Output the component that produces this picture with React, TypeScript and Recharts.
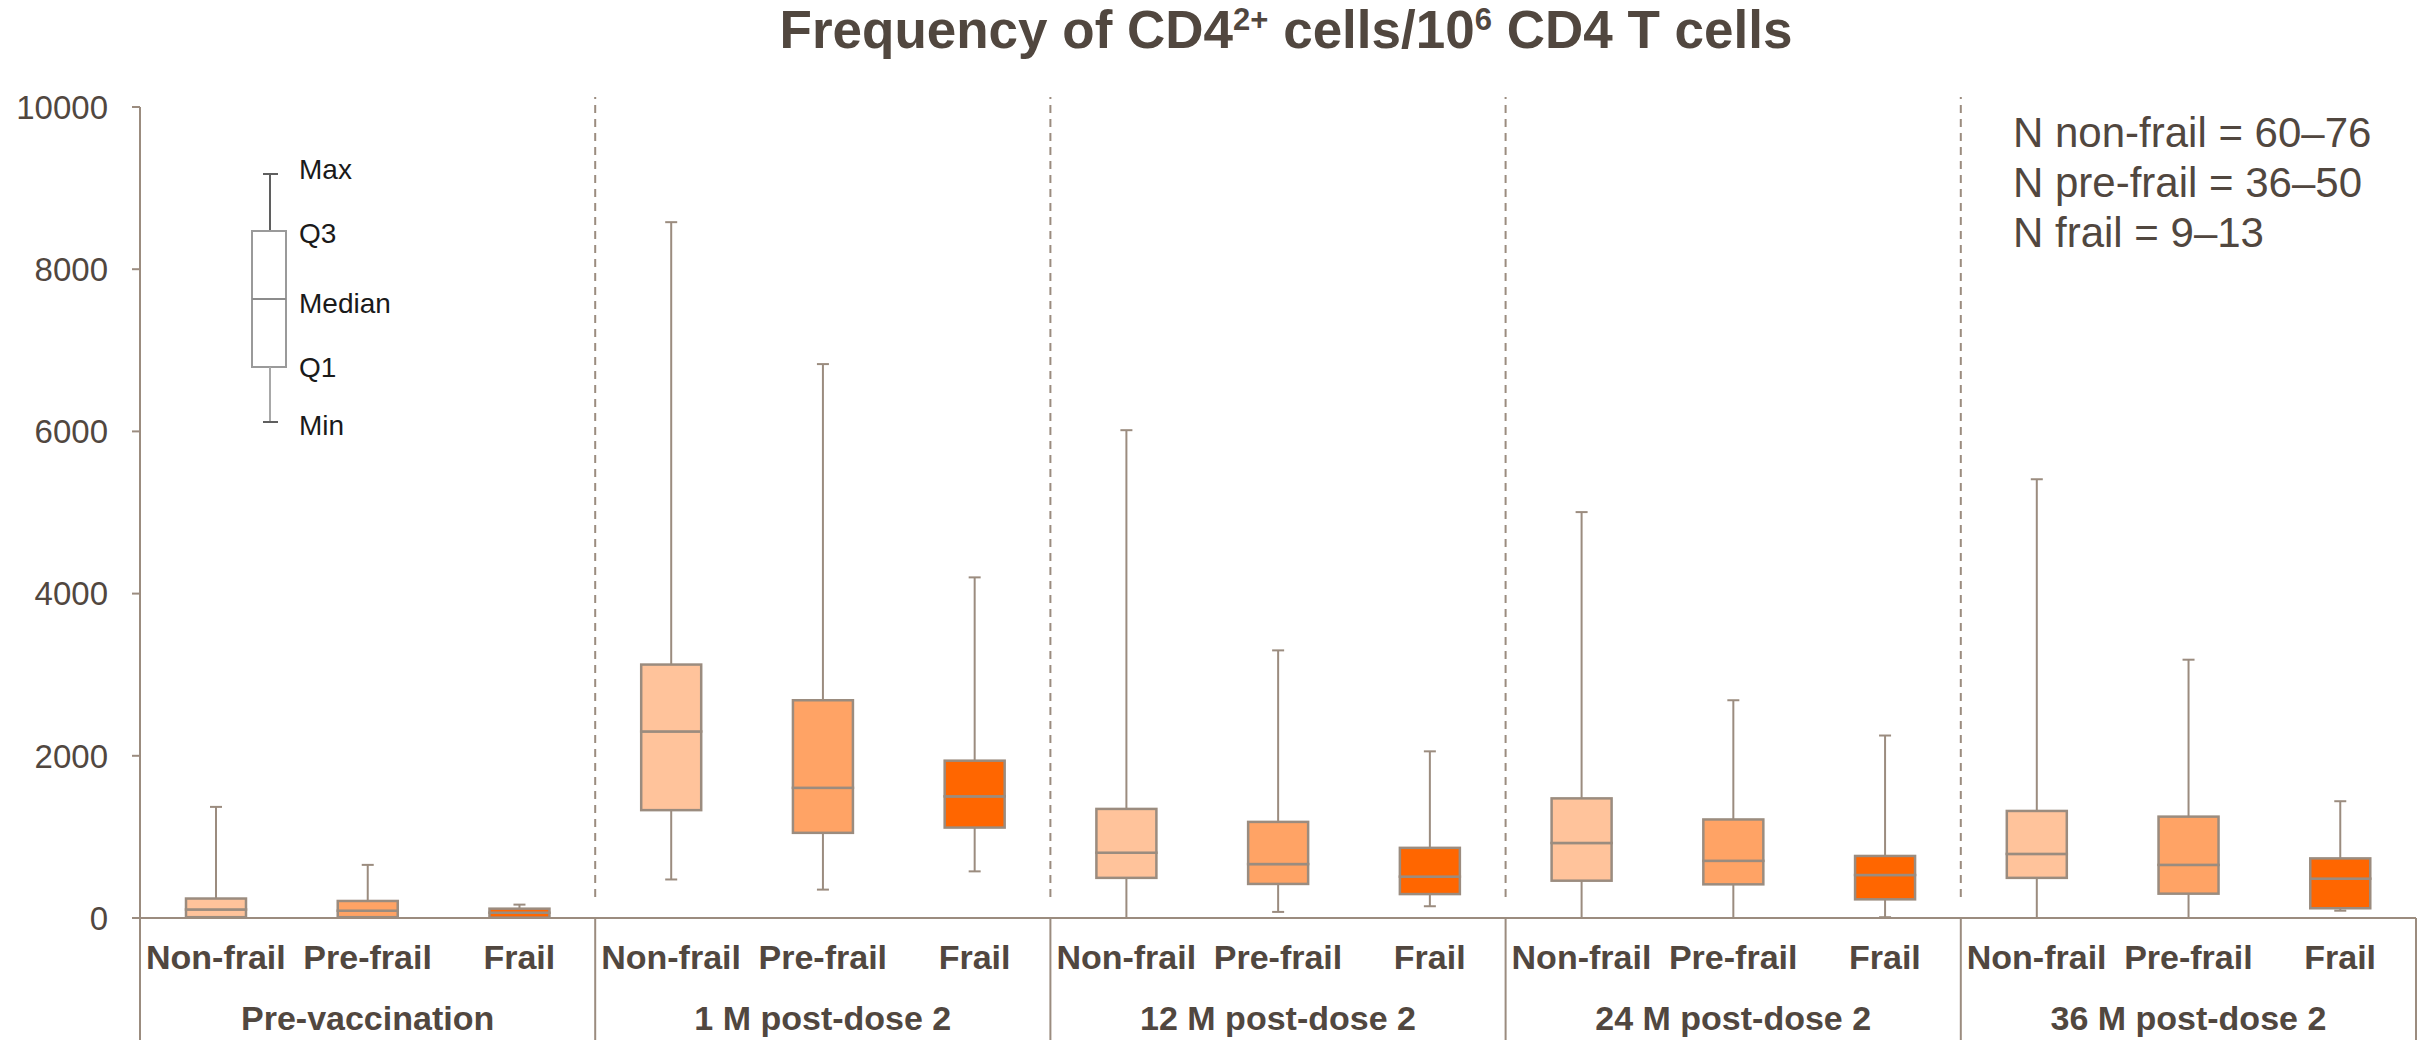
import React from 'react';
import { ComposedChart, Bar, XAxis, YAxis } from 'recharts';

// ---------- data ----------
const TIMEPOINTS = ['Pre-vaccination', '1 M post-dose 2', '12 M post-dose 2', '24 M post-dose 2', '36 M post-dose 2'];
const FRAILTY = ['Non-frail', 'Pre-frail', 'Frail'];
// order: for each timepoint -> Non-frail, Pre-frail, Frail
const MIN_VALUES = [0, 0, 0, 475, 350, 575, 0, 75, 145, 0, 0, 10, 0, 0, 90];
const Q1_VALUES = [10, 10, 5, 1330, 1050, 1115, 495, 420, 295, 460, 415, 230, 495, 300, 120];
const MEDIAN_VALUES = [105, 90, 65, 2300, 1605, 1500, 805, 665, 510, 925, 705, 530, 790, 655, 485];
const Q3_VALUES = [240, 210, 115, 3125, 2685, 1940, 1345, 1185, 865, 1475, 1215, 765, 1320, 1250, 735];
const MAX_VALUES = [1370, 655, 165, 8580, 6830, 4200, 6015, 3300, 2055, 5005, 2685, 2250, 5410, 3185, 1440];
const Y_TICKS = [0, 2000, 4000, 6000, 8000, 10000];
const N_LINES = ['N non-frail = 60–76', 'N pre-frail = 36–50', 'N frail = 9–13'];
const KEY_LABELS = ['Max', 'Q3', 'Median', 'Q1', 'Min'];

// ---------- style ----------
const FONT = '"Liberation Sans", Arial, sans-serif';
const TEXT = '#51473F';
const LINE = '#9B8C7F';
const FRAILTY_COLORS = ['#FFC39B', '#FFA365', '#FF6600'];

const W = 2435;
const H = 1040;
const MARGIN = { top: 107, right: 19, bottom: 0, left: 0 };
const Y_AXIS_W = 140;
const X_AXIS_H = 122;
const PLOT_W = W - MARGIN.left - MARGIN.right - Y_AXIS_W;
const PLOT_H = H - MARGIN.top - MARGIN.bottom - X_AXIS_H;

const DATA = TIMEPOINTS.flatMap((tp, ti) =>
  FRAILTY.map((fr, fi) => {
    const i = ti * 3 + fi;
    return {
      id: `${tp}|${fr}`,
      timepoint: tp,
      frailty: fr,
      fi,
      base: MIN_VALUES[i],
      lowWhisker: Q1_VALUES[i] - MIN_VALUES[i],
      boxLow: MEDIAN_VALUES[i] - Q1_VALUES[i],
      boxHigh: Q3_VALUES[i] - MEDIAN_VALUES[i],
      highWhisker: MAX_VALUES[i] - Q3_VALUES[i],
    };
  })
);
const BAND = PLOT_W / DATA.length;

const Empty = () => <g />;

const LowWhisker = (p: any) => {
  const cx = p.x + p.width / 2;
  return (
    <g>
      <line x1={cx} x2={cx} y1={p.y} y2={p.y + p.height} stroke={LINE} strokeWidth={2} />
      <line x1={cx - 6} x2={cx + 6} y1={p.y + p.height} y2={p.y + p.height} stroke={LINE} strokeWidth={2} />
    </g>
  );
};

const HighWhisker = (p: any) => {
  const cx = p.x + p.width / 2;
  return (
    <g>
      <line x1={cx} x2={cx} y1={p.y} y2={p.y + p.height} stroke={LINE} strokeWidth={2} />
      <line x1={cx - 6} x2={cx + 6} y1={p.y} y2={p.y} stroke={LINE} strokeWidth={2} />
    </g>
  );
};

const BoxPart = (p: any) => {
  const fill = FRAILTY_COLORS[p.payload.fi];
  return (
    <rect x={p.x} y={p.y} width={p.width} height={Math.max(p.height, 0)} fill={fill} stroke={LINE} strokeWidth={2.5} />
  );
};

const XTick = (props: any) => {
  const { x, y, index } = props;
  const d = DATA[index];
  if (!d) return <g />;
  const left = x - BAND / 2;
  const right = x + BAND / 2;
  return (
    <g>
      <text x={x} y={y + 51} textAnchor="middle" fontSize={34} fontWeight="bold" fill={TEXT} fontFamily={FONT}>
        {d.frailty}
      </text>
      {d.fi === 1 && (
        <text x={x} y={y + 112} textAnchor="middle" fontSize={34} fontWeight="bold" fill={TEXT} fontFamily={FONT}>
          {d.timepoint}
        </text>
      )}
      {d.fi === 0 && <line x1={left} x2={left} y1={y} y2={y + X_AXIS_H} stroke={LINE} strokeWidth={2} />}
      {d.fi === 0 && index > 0 && (
        <line x1={left} x2={left} y1={y - 21} y2={y - PLOT_H - 10} stroke={LINE} strokeWidth={2} strokeDasharray="8 6" />
      )}
      {index === DATA.length - 1 && <line x1={right} x2={right} y1={y} y2={y + X_AXIS_H} stroke={LINE} strokeWidth={2} />}
    </g>
  );
};

const Overlay = () => (
  <svg width={W} height={H} style={{ position: 'absolute', left: 0, top: 0, pointerEvents: 'none' }}>
    <text x={1286} y={48} textAnchor="middle" fontFamily={FONT} fontWeight="bold" fontSize={53} fill={TEXT}>
      Frequency of CD4
      <tspan fontSize={31} dy={-18}>2+</tspan>
      <tspan dy={18}> cells/10</tspan>
      <tspan fontSize={31} dy={-18}>6</tspan>
      <tspan dy={18}> CD4 T cells</tspan>
    </text>
    {N_LINES.map((t, i) => (
      <text key={t} x={2013} y={147 + i * 50} fontFamily={FONT} fontSize={42} fill={TEXT}>
        {t}
      </text>
    ))}
    {/* box-plot key */}
    <line x1={270} x2={270} y1={174} y2={231} stroke="#5F5F5F" strokeWidth={2} />
    <line x1={263} x2={278} y1={174} y2={174} stroke="#5F5F5F" strokeWidth={2} />
    <rect x={252} y={231} width={34} height={136} fill="#FFFFFF" stroke="#9A9A9A" strokeWidth={2} />
    <line x1={252} x2={286} y1={299} y2={299} stroke="#8C8C8C" strokeWidth={2} />
    <line x1={270} x2={270} y1={367} y2={422} stroke="#A8A8A8" strokeWidth={2} />
    <line x1={263} x2={278} y1={422} y2={422} stroke="#5F5F5F" strokeWidth={2} />
    {KEY_LABELS.map((t, i) => (
      <text key={t} x={299} y={[169, 233, 303, 367, 425][i]} dominantBaseline="central" fontFamily={FONT} fontSize={28} fill="#1A1A1A">
        {t}
      </text>
    ))}
  </svg>
);

export default function App() {
  return (
    <div style={{ position: 'absolute', left: 0, top: 0, width: W, height: H, background: '#FFFFFF' }}>
      <ComposedChart width={W} height={H} data={DATA} margin={MARGIN} barSize={60}>
        <XAxis
          dataKey="id"
          interval={0}
          height={X_AXIS_H}
          tickLine={false}
          tickSize={0}
          tickMargin={0}
          axisLine={{ stroke: LINE, strokeWidth: 2 }}
          tick={<XTick />}
        />
        <YAxis
          width={Y_AXIS_W}
          domain={[0, 10000]}
          ticks={Y_TICKS}
          allowDataOverflow
          tickSize={8}
          tickMargin={24}
          axisLine={{ stroke: LINE, strokeWidth: 2 }}
          tickLine={{ stroke: LINE, strokeWidth: 2 }}
          tick={{ fontSize: 33, fill: TEXT, fontFamily: FONT }}
        />
        <Bar dataKey="base" stackId="b" shape={<Empty />} isAnimationActive={false} />
        <Bar dataKey="lowWhisker" stackId="b" shape={<LowWhisker />} isAnimationActive={false} />
        <Bar dataKey="boxLow" stackId="b" shape={<BoxPart />} isAnimationActive={false} />
        <Bar dataKey="boxHigh" stackId="b" shape={<BoxPart />} isAnimationActive={false} />
        <Bar dataKey="highWhisker" stackId="b" shape={<HighWhisker />} isAnimationActive={false} />
      </ComposedChart>
      <Overlay />
    </div>
  );
}
